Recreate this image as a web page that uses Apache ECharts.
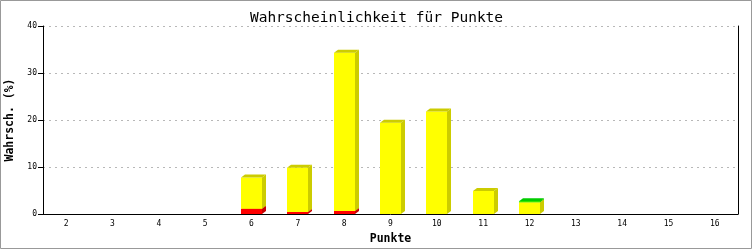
<!DOCTYPE html>
<html>
<head>
<meta charset="utf-8">
<script src="https://cdn.jsdelivr.net/npm/echarts@6/dist/echarts.min.js"></script>
<style>html,body{margin:0;padding:0;background:#fff}#c{width:753px;height:250px}</style>
</head>
<body>
<div id="c"></div>
<script>
var categories = ['2','3','4','5','6','7','8','9','10','11','12','13','14','15','16'];
var redValues    = [0,0,0,0,1.1,0.45,0.65,0,0,0,0,0,0,0,0];
var yellowValues = [0,0,0,0,6.65,9.4,33.65,19.4,21.8,4.9,2.5,0,0,0,0];
var greenValues  = [0,0,0,0,0,0,0,0,0,0,0.2,0,0,0,0];
var yTicks = [0,10,20,30,40];

var layers = [
  {name:'rot', values:redValues, front:'#ff0000', shade:'#c80000'},
  {name:'gelb', values:yellowValues, front:'#ffff00', shade:'#cccc00'},
  {name:'gruen', values:greenValues, front:'#00ff00', shade:'#00cc00'}
];

var base = categories.map(function(){return 0;});
var series = layers.map(function(layer){
  var data = layer.values.map(function(v,i){
    var b = base[i]; base[i] = b + v;
    return [i, b, b + v];
  });
  return {
    type:'custom', name:layer.name,
    renderItem:function(params, api){
      var b = api.value(1), t = api.value(2);
      if (t - b <= 0) return;
      var pb = api.coord([api.value(0), b]);
      var pt = api.coord([api.value(0), t]);
      var w = api.size([1,0])[0] * 0.455;
      var L = Math.round(pb[0] - w/2), R = Math.round(pb[0] + w/2);
      var B = pb[1], T = pt[1];
      var dx = 4, dy = 3;
      return {type:'group', children:[
        {type:'rect', shape:{x:L, y:T, width:R-L, height:B-T}, style:{fill:layer.front}},
        {type:'polygon', shape:{points:[[R,B],[R+dx,B-dy],[R+dx,T-dy],[R,T]]}, style:{fill:layer.shade}},
        {type:'polygon', shape:{points:[[L,T],[L+dx,T-dy],[R+dx,T-dy],[R,T]]}, style:{fill:layer.shade}}
      ]};
    },
    data:data
  };
});

var chart = echarts.init(document.getElementById('c'), null, {renderer:'canvas'});
chart.setOption({
  animation:false,
  backgroundColor:'#fff',
  title:{text:'Wahrscheinlichkeit für Punkte', left:'center', top:6,
    textStyle:{fontFamily:'DejaVu Sans Mono', fontSize:14.5, fontWeight:'normal', color:'#000'}},
  grid:{left:43, right:15, top:26, bottom:36, containLabel:false, outerBoundsMode:'none'},
  xAxis:{type:'category', data:categories, boundaryGap:true,
    name:'Punkte', nameLocation:'middle', nameGap:18,
    nameTextStyle:{fontFamily:'DejaVu Sans Mono', fontSize:11.5, fontWeight:'bold', color:'#000'},
    axisLine:{lineStyle:{color:'#000', width:1}}, axisTick:{show:false},
    axisLabel:{fontFamily:'DejaVu Sans Mono', fontSize:8, color:'#000', margin:6},
    splitLine:{show:false}},
  yAxis:[{type:'value', min:yTicks[0], max:yTicks[yTicks.length-1], interval:10,
    name:'Wahrsch. (%)', nameLocation:'middle', nameGap:25,
    nameTextStyle:{fontFamily:'DejaVu Sans Mono', fontSize:11.5, fontWeight:'bold', color:'#000'},
    axisLine:{show:true, lineStyle:{color:'#000', width:1}},
    axisTick:{show:true, length:5, lineStyle:{color:'#000'}},
    axisLabel:{fontFamily:'DejaVu Sans Mono', fontSize:8, color:'#000', margin:6},
    splitLine:{show:true, lineStyle:{color:'#b8b8b8', type:[2,4], width:1}}},
   {type:'value', min:yTicks[0], max:yTicks[yTicks.length-1], interval:10, position:'right',
    axisLine:{show:true, lineStyle:{color:'#000', width:1}}, axisTick:{show:false},
    axisLabel:{show:false}, splitLine:{show:false}}],
  graphic:[{type:'rect', shape:{x:0.5, y:0.5, width:751, height:248}, style:{fill:null, stroke:'#999', lineWidth:1}, silent:true}],
  series:series
});
</script>
</body>
</html>
